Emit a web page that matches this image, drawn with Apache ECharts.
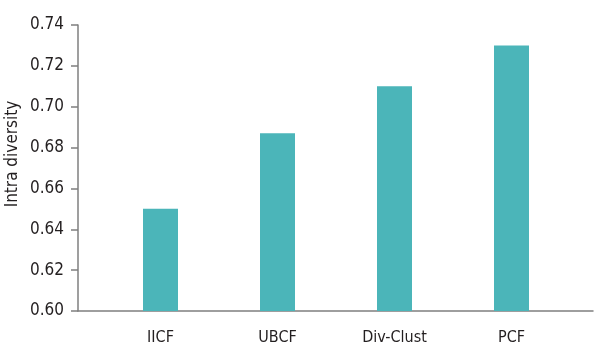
<!DOCTYPE html>
<html>
<head>
<meta charset="utf-8">
<script src="https://cdn.jsdelivr.net/npm/echarts@6/dist/echarts.min.js"></script>
<style>html,body{margin:0;padding:0;background:#fff}#c{width:600px;height:361px}</style>
</head>
<body>
<div id="c"></div>
<script>
var categories = ['IICF', 'UBCF', 'Div-Clust', 'PCF'];
var values = [0.650, 0.687, 0.710, 0.730];
var yTicks = ['0.60', '0.62', '0.64', '0.66', '0.68', '0.70', '0.72', '0.74'];
var yMin = 0.60, yMax = 0.74, yStep = 0.02;
var axisName = 'Intra diversity';

var font = '"DejaVu Sans Condensed", "Liberation Sans", sans-serif';
var axisColor = '#7f7f7f';
var textColor = '#231f20';

var chart = echarts.init(document.getElementById('c'), null, {renderer: 'canvas'});
chart.setOption({
  animation: false,
  backgroundColor: '#fff',
  grid: [
    {left: 78, right: 7, top: 25, bottom: 50},
    {left: 102, right: 30, top: 25, bottom: 50}
  ],
  xAxis: [
    {type: 'value', gridIndex: 0, min: 0, max: 1,
     axisLine: {show: true, onZero: false, lineStyle: {color: axisColor, width: 1.5}},
     axisTick: {show: false}, axisLabel: {show: false}, splitLine: {show: false}},
    {type: 'category', gridIndex: 1, data: categories,
     axisLine: {show: false}, axisTick: {show: false}, splitLine: {show: false},
     axisLabel: {margin: 19, color: textColor, fontFamily: font, fontSize: 16}}
  ],
  yAxis: [
    {type: 'value', gridIndex: 0, min: yMin, max: yMax, interval: yStep,
     axisLine: {show: true, lineStyle: {color: axisColor, width: 1.5}},
     axisTick: {show: true, inside: false, length: 7, lineStyle: {color: axisColor, width: 1.5}},
     splitLine: {show: false},
     axisLabel: {margin: 14, color: textColor, fontFamily: font, fontSize: 17,
       formatter: function (v) { var s = v.toFixed(2); return yTicks.indexOf(s) >= 0 ? s : ''; }}},
    {type: 'value', gridIndex: 1, min: yMin, max: yMax, interval: yStep, show: false}
  ],
  graphic: [{
    type: 'text', x: 13, y: 154, rotation: Math.PI / 2,
    style: {text: axisName, font: '17px ' + font, fill: textColor,
            textAlign: 'center', textVerticalAlign: 'middle'}
  }],
  series: [{
    type: 'bar', xAxisIndex: 1, yAxisIndex: 1, data: values,
    barWidth: 35, itemStyle: {color: '#4bb5b9'}
  }]
});
</script>
</body>
</html>
